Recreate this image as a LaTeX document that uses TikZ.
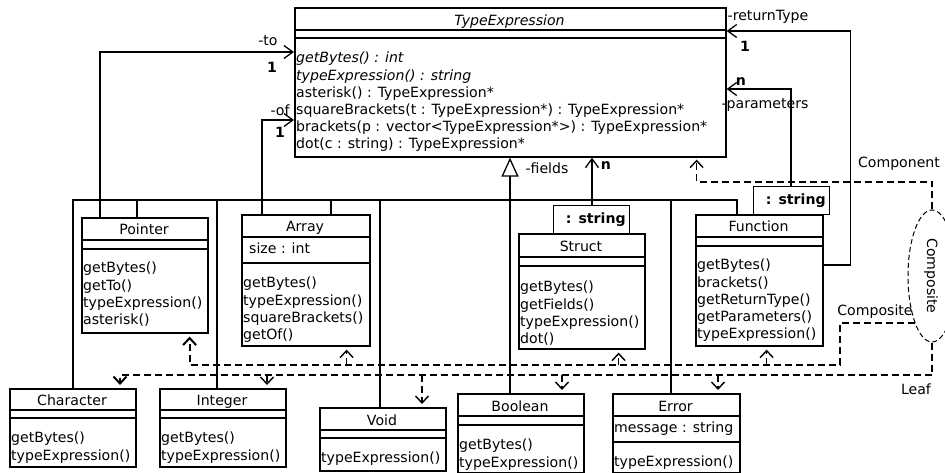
\documentclass[tikz,border=0pt]{standalone}
\usepackage{fontspec}
\setmainfont{DejaVu Sans}
\usetikzlibrary{arrows.meta,shapes.geometric}

\begin{document}
\begin{tikzpicture}[x=1pt,y=-1pt,font=\fontsize{14.1}{17.2}\selectfont]
\tikzstyle{cls}=[draw,fill=white,line width=1.6pt,anchor=north west,inner sep=0pt]
\tikzstyle{qual}=[draw,fill=white,line width=1.3pt,anchor=north west,inner xsep=4pt,inner ysep=0pt,text width=68pt,align=right,minimum height=28pt]
\tikzstyle{head}=[anchor=center,inner sep=0pt,text height=10pt,text depth=0pt,yshift=-1.5pt]
\tikzstyle{ops}=[anchor=north west,inner sep=0pt,align=left]
\tikzstyle{cmpline}=[line width=1.2pt]
\tikzstyle{wire}=[line width=1.3pt]
\tikzstyle{assoc}=[line width=1.3pt,-{Straight Barb[length=9pt,width=13pt]}]
\tikzstyle{gen}=[line width=1.3pt,-{Triangle[open,length=19pt,width=17pt,fill=white]}]
\tikzstyle{dep}=[line width=1.4pt,dash pattern=on 7pt off 4pt,-{Straight Barb[length=7pt,width=13pt]},shorten >=3pt]
\tikzstyle{lbl}=[inner sep=0pt]

\useasboundingbox (0,0) rectangle (945,473);

% abstract base class
\node[cls,minimum width=431pt,minimum height=149pt] (te) at (294,7) {};
\draw[cmpline] (294,30) -- (725,30) (294,38) -- (725,38);
\node[head] (te-t) at (509.5,19) {\textit{TypeExpression}};
\node[ops] (te-m) at (296,52) {\textit{getBytes() : int}\\\textit{typeExpression() : string}\\asterisk() : TypeExpression*\\squareBrackets(t : TypeExpression*) : TypeExpression*\\brackets(p : vector<TypeExpression*>) : TypeExpression*\\dot(c : string) : TypeExpression*};

% composite classes
\node[cls,minimum width=126pt,minimum height=115pt] (ptr) at (81,217) {};
\draw[cmpline] (81,240) -- (207,240) (81,249) -- (207,249);
\node[head] (ptr-t) at (144,228.5) {Pointer};
\node[ops] (ptr-m) at (83,262) {getBytes()\\getTo()\\typeExpression()\\asterisk()};

\node[cls,minimum width=128pt,minimum height=131pt] (arr) at (241,214) {};
\draw[cmpline] (241,237) -- (369,237) (241,263) -- (369,263);
\node[head] (arr-t) at (305,225.5) {Array};
\node[ops] (arr-a) at (249,243) {size : int};
\node[ops] (arr-m) at (243,277) {getBytes()\\typeExpression()\\squareBrackets()\\getOf()};

\node[qual] (strq) at (553,205) {\textbf{: string}};
\node[cls,minimum width=126pt,minimum height=115pt] (str) at (518,233) {};
\draw[cmpline] (518,257) -- (644,257) (518,266) -- (644,266);
\node[head] (str-t) at (581,245) {Struct};
\node[ops] (str-m) at (520,281) {getBytes()\\getFields()\\typeExpression()\\dot()};

\node[qual] (funq) at (753,186) {\textbf{: string}};
\node[cls,minimum width=127pt,minimum height=131pt] (fun) at (695,214) {};
\draw[cmpline] (695,237) -- (822,237) (695,246) -- (822,246);
\node[head] (fun-t) at (758.5,225.5) {Function};
\node[ops] (fun-m) at (697,259) {getBytes()\\brackets()\\getReturnType()\\getParameters()\\typeExpression()};

% leaf classes
\node[cls,minimum width=126pt,minimum height=78pt] (chr) at (9,388) {};
\draw[cmpline] (9,410) -- (135,410) (9,418) -- (135,418);
\node[head] (chr-t) at (72,399) {Character};
\node[ops] (chr-m) at (11,432) {getBytes()\\typeExpression()};

\node[cls,minimum width=126pt,minimum height=78pt] (int) at (159,388) {};
\draw[cmpline] (159,410) -- (285,410) (159,418) -- (285,418);
\node[head] (int-t) at (222,399) {Integer};
\node[ops] (int-m) at (161,432) {getBytes()\\typeExpression()};

\node[cls,minimum width=126pt,minimum height=63pt] (void) at (319,407) {};
\draw[cmpline] (319,430) -- (445,430) (319,438) -- (445,438);
\node[head] (void-t) at (382,418.5) {Void};
\node[ops] (void-m) at (321,452) {typeExpression()};

\node[cls,minimum width=126pt,minimum height=79pt] (bool) at (457,393) {};
\draw[cmpline] (457,416) -- (583,416) (457,425) -- (583,425);
\node[head] (bool-t) at (520,404.5) {Boolean};
\node[ops] (bool-m) at (459,439) {getBytes()\\typeExpression()};

\node[cls,minimum width=127pt,minimum height=79pt] (err) at (612,393) {};
\draw[cmpline] (612,416) -- (739,416) (612,442) -- (739,442);
\node[head] (err-t) at (675.5,404.5) {Error};
\node[ops] (err-a) at (614,422) {message : string};
\node[ops] (err-m) at (614,456) {typeExpression()};

% inheritance
\coordinate (bus) at (0,200);
\coordinate (chrT) at ([xshift=64pt]chr.north west);
\coordinate (ptrT) at ([xshift=56pt]ptr.north west);
\coordinate (intT) at ([xshift=58pt]int.north west);
\coordinate (arrT) at ([xshift=90pt]arr.north west);
\coordinate (voidT) at ([xshift=61pt]void.north west);
\coordinate (boolT) at ([xshift=53pt]bool.north west);
\coordinate (errT) at ([xshift=59pt]err.north west);
\coordinate (funT) at ([xshift=42pt]fun.north west);
\draw[wire] (chrT) |- (funT |- bus) -- (funT);
\foreach \c in {ptrT,intT,arrT,voidT,errT}
  \draw[wire] (\c) -- (\c |- bus);
\draw[gen] (boolT) -- (boolT |- te.south);

% associations
\coordinate (ptrA) at ([xshift=19pt]ptr.north west);
\coordinate (arrA) at ([xshift=21pt]arr.north west);
\coordinate (strA) at ([xshift=39pt]strq.north west);
\coordinate (funA) at ([xshift=38pt]funq.north west);
\draw[assoc] (ptrA) |- ([yshift=-45pt]te.north west);
\draw[assoc] (arrA) |- ([yshift=-113pt]te.north west);
\draw[assoc] (strA) -- (strA |- te.south);
\draw[assoc] (funA) |- ([yshift=-82pt]te.north east);
\draw[assoc] ([yshift=-51pt]fun.north east) -- ++(27,0) |- ([yshift=-24pt]te.north east);

\node[lbl] (to-l) at (268,41) {-to};
\node[lbl] (to-m) at (272,67) {\textbf{1}};
\node[lbl] (of-l) at (280,110) {-of};
\node[lbl] (of-m) at (280,132) {\textbf{1}};
\node[lbl] (rt-l) at (768,17) {-returnType};
\node[lbl] (rt-m) at (745,46) {\textbf{1}};
\node[lbl] (pa-m) at (741,82) {\textbf{n}};
\node[lbl] (pa-l) at (765,105) {-parameters};
\node[lbl] (fi-l) at (547,168) {-fields};
\node[lbl] (fi-m) at (606,166) {\textbf{n}};

% composite pattern roles
\node[draw,ellipse,line width=1pt,dash pattern=on 5pt off 3pt,minimum width=48pt,minimum height=132pt,inner sep=0pt] (comp) at (932,276) {};
\node[lbl,rotate=-90] (comp-l) at (931,276) {Composite};

\coordinate (cmpA) at ([xshift=-30pt]te.south east);
\coordinate (cmpB) at (0,182);
\draw[dep,shorten >=2pt] (comp.north) |- (cmpA |- cmpB) -- (cmpA);

\coordinate (cL) at (840,365);
\coordinate (ptrB) at ([xshift=-19pt]ptr.south east);
\coordinate (arrB) at ([xshift=-24pt]arr.south east);
\coordinate (strB) at ([xshift=-27pt]str.south east);
\coordinate (funB) at ([xshift=-57pt]fun.south east);
\draw[dep,line width=2pt] (comp.south west) -| (cL) -| (ptrB);
\foreach \c in {arrB,strB,funB}
  \draw[dep] (\c |- cL) -- (\c);

\coordinate (lf) at (0,375);
\coordinate (chrB) at ([xshift=111pt]chr.north west);
\coordinate (intB) at ([xshift=108pt]int.north west);
\coordinate (voidB) at ([xshift=103pt]void.north west);
\coordinate (boolB) at ([xshift=105pt]bool.north west);
\coordinate (errB) at ([xshift=106pt]err.north west);
\draw[dep,line width=2pt] (comp.south) -- (comp.south |- lf) -| (chrB);
\foreach \c in {intB,voidB,boolB,errB}
  \draw[dep] (\c |- lf) -- (\c);

\node[lbl] (cmp-l) at (899,164) {Component};
\node[lbl] (cps-l) at (875,312) {Composite};
\node[lbl] (leaf-l) at (916,389) {Leaf};

\end{tikzpicture}
\end{document}
